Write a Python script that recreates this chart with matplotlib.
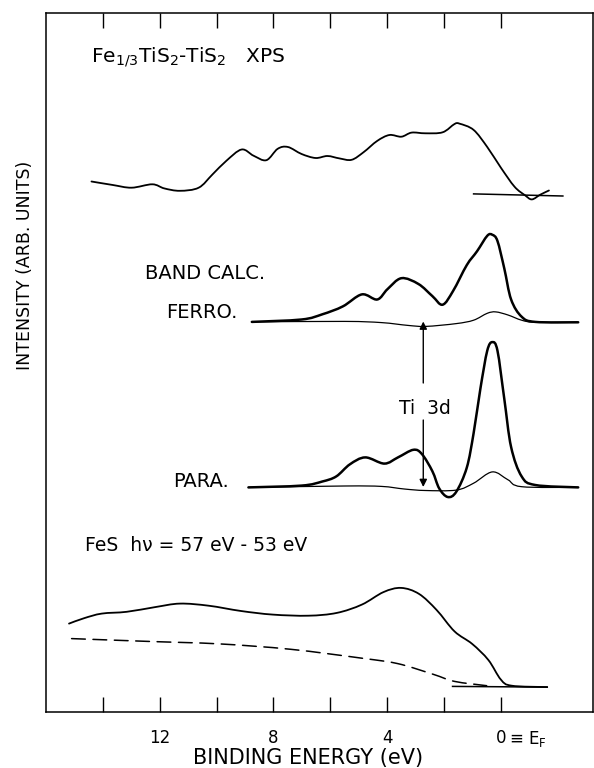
import matplotlib
matplotlib.use("Agg")
import matplotlib.pyplot as plt
import matplotlib.transforms as mtransforms
from matplotlib.path import Path
from matplotlib.patches import PathPatch
import numpy as np

plt.rcParams['font.family'] = ['DejaVu Sans']

# ---------------- data (binding energy in eV, intensity in arb. units) ----------------
xps_E = [14.40, 13.65, 12.99, 12.26, 11.84, 11.29, 10.63, 10.15, 9.66, 9.12, 8.70, 8.25,
         7.85, 7.49, 7.01, 6.52, 6.10, 5.68, 5.25, 4.83, 4.35, 3.92, 3.50, 3.14, 2.66,
         2.05, 1.63, 1.45, 0.96, 0.48, 0.00, -0.48, -0.85, -1.09, -1.39, -1.69]
xps_I = [530.5, 527.0, 524.3, 527.7, 523.6, 521.2, 524.3, 537.4, 551.1, 562.5, 556.3, 551.8,
         563.2, 565.0, 558.0, 554.0, 556.0, 553.6, 552.2, 559.8, 571.1, 577.0, 575.3, 579.4, 578.7,
         579.7, 588.0, 588.3, 582.1, 565.0, 544.3, 525.3, 516.7, 512.6, 517.4, 521.5]
xps_base_E = [0.96, -2.18]
xps_base_I = [518.1, 516.0]

ferro_tot_E = [8.76, 7.01, 6.28, 5.56, 4.89, 4.35, 3.99, 3.50, 2.90, 2.41, 2.05, 1.68,
               1.20, 0.84, 0.48, 0.30, 0.12, -0.12, -0.36, -0.73, -1.21, -2.72]
ferro_tot_I = [390.1, 392.5, 397.7, 405.6, 417.6, 412.5, 422.8, 433.8, 428.0, 415.9, 407.3,
               421.1, 446.9, 460.7, 476.2, 477.2, 471.0, 443.5, 412.5, 395.3, 390.1, 389.7]
ferro_ti_E = [8.76, 5.50, 4.20, 3.27, 2.64, 1.57, 0.96, 0.48, 0.18, -0.25, -0.73, -1.21, -2.72]
ferro_ti_I = [390.1, 390.6, 389.4, 386.6, 385.6, 388.4, 391.8, 398.7, 400.1, 397.0, 391.8, 389.7, 389.7]

para_tot_E = [8.88, 7.01, 6.28, 5.79, 5.31, 4.77, 4.10, 3.62, 3.08, 2.78, 2.41, 2.17, 1.87,
              1.57, 1.20, 0.96, 0.72, 0.48, 0.30, 0.12, -0.12, -0.36, -0.73, -1.21, -2.72]
para_tot_I = [224.6, 226.4, 230.5, 235.6, 247.7, 254.6, 248.4, 254.6, 262.2, 258.0, 240.8,
              223.6, 215.0, 220.2, 244.3, 278.7, 323.5, 361.3, 369.9, 361.3, 313.1, 264.9,
              235.6, 227.0, 224.6]
para_ti_E = [8.88, 5.50, 4.20, 3.40, 2.66, 1.57, 0.96, 0.30, -0.25, -0.73, -2.72]
para_ti_I = [224.6, 226.0, 225.6, 223.0, 221.5, 221.9, 228.8, 240.1, 232.2, 225.3, 224.6]

fes_E = [15.19, 14.66, 14.04, 13.16, 12.16, 11.29, 10.28, 9.14, 8.02, 6.77, 5.77, 4.89,
         4.13, 3.51, 2.88, 2.26, 1.63, 1.01, 0.44, 0.00, -0.38, -1.63]
fes_I = [88.4, 93.8, 98.4, 100.2, 104.9, 108.4, 106.3, 101.0, 97.4, 96.3, 99.1, 107.4,
         119.9, 124.1, 118.1, 102.0, 80.6, 68.1, 52.0, 32.4, 26.3, 24.9]
fes_bg_E = [15.10, 12.41, 9.90, 7.39, 4.89, 3.63, 2.38, 1.63, 0.50]
fes_bg_I = [73.4, 70.6, 68.1, 62.7, 53.8, 48.4, 37.7, 30.6, 26.3]
fes_base_E = [1.70, -1.63]
fes_base_I = [25.6, 24.9]

tick_E = [14, 12, 10, 8, 6, 4, 2, 0]
tick_labels = ['', '12', '', '8', '', '4', '', '0']


def smooth_curve(ax, xs, ys, **kw):
    """Draw a smooth (Catmull-Rom as cubic Bezier) curve through the given points."""
    p = np.column_stack([xs, ys]).astype(float)
    n = len(p)
    verts = [p[0]]
    codes = [Path.MOVETO]
    for i in range(n - 1):
        p0 = p[i - 1] if i > 0 else p[i]
        p1 = p[i]
        p2 = p[i + 1]
        p3 = p[i + 2] if i + 2 < n else p[i + 1]
        verts += [p1 + (p2 - p0) / 6.0, p2 - (p3 - p1) / 6.0, p2]
        codes += [Path.CURVE4] * 3
    patch = PathPatch(Path(verts, codes), fill=False, edgecolor='black',
                      capstyle='round', joinstyle='round', **kw)
    ax.add_patch(patch)
    return patch


# ---------------- figure ----------------
fig = plt.figure(figsize=(5.94, 7.68), dpi=100)
ax = fig.add_axes([46/594, 1-712/768, (593-46)/594, (712-13)/768])
ax.set_xlim(16.0, -3.24)
ax.set_ylim(0, 699)

thick = 1.8
thin = 0.9
smooth_curve(ax, xps_E, xps_I, lw=1.3)
ax.plot(xps_base_E, xps_base_I, color='black', lw=1.1)
smooth_curve(ax, ferro_tot_E, ferro_tot_I, lw=thick)
smooth_curve(ax, ferro_ti_E, ferro_ti_I, lw=thin)
smooth_curve(ax, para_tot_E, para_tot_I, lw=thick)
smooth_curve(ax, para_ti_E, para_ti_I, lw=thin)
smooth_curve(ax, fes_E, fes_I, lw=1.3)
smooth_curve(ax, fes_bg_E, fes_bg_I, lw=1.1, linestyle=(0, (9, 5)))
ax.plot(fes_base_E, fes_base_I, color='black', lw=1.1)

# Ti 3d arrows
ax.annotate('', xy=(2.73, 390.5), xytext=(2.73, 329),
            arrowprops=dict(arrowstyle='-|>', color='black', lw=1.0, mutation_scale=11,
                            shrinkA=0, shrinkB=0))
ax.annotate('', xy=(2.73, 225), xytext=(2.73, 292),
            arrowprops=dict(arrowstyle='-|>', color='black', lw=1.0, mutation_scale=11,
                            shrinkA=0, shrinkB=0))
ax.text(2.66, 304, 'Ti  3d', ha='center', va='center', fontsize=13.5)

# labels inside
ax.text(14.41, 654.5, 'Fe$_{\\mathregular{1/3}}$TiS$_{\\mathregular{2}}$-TiS$_{\\mathregular{2}}$   XPS',
        ha='left', va='center', fontsize=14.5)
ax.text(12.51, 438.3, 'BAND CALC.', ha='left', va='center', fontsize=14)
ax.text(11.78, 399, 'FERRO.', ha='left', va='center', fontsize=14)
ax.text(11.53, 230.5, 'PARA.', ha='left', va='center', fontsize=14)
ax.text(14.64, 166.3, 'FeS  h\u03bd = 57 eV - 53 eV', ha='left', va='center', fontsize=13.5)

# ticks
ax.set_xticks(tick_E)
ax.set_xticklabels(tick_labels, fontsize=12)
ax.set_yticks([])
ax.tick_params(axis='x', which='both', direction='in', length=11, width=1.0,
               top=True, bottom=True, pad=12.5)
trans = mtransforms.blended_transform_factory(ax.transData, ax.transAxes)
ax.annotate('\u2261 E$_{\\mathregular{F}}$', xy=(-0.28, 0), xycoords=trans,
            xytext=(0, -12.5), textcoords='offset points',
            ha='left', va='top', fontsize=12)

for s in ax.spines.values():
    s.set_linewidth(1.1)

fig.text(308/594, 1-764/768, 'BINDING ENERGY (eV)', ha='center', va='baseline', fontsize=15)
fig.text(25/594, 1-265/768, 'INTENSITY (ARB. UNITS)', rotation=90,
         ha='center', va='center', fontsize=12.5)

fig.savefig('out.png', dpi=100)
